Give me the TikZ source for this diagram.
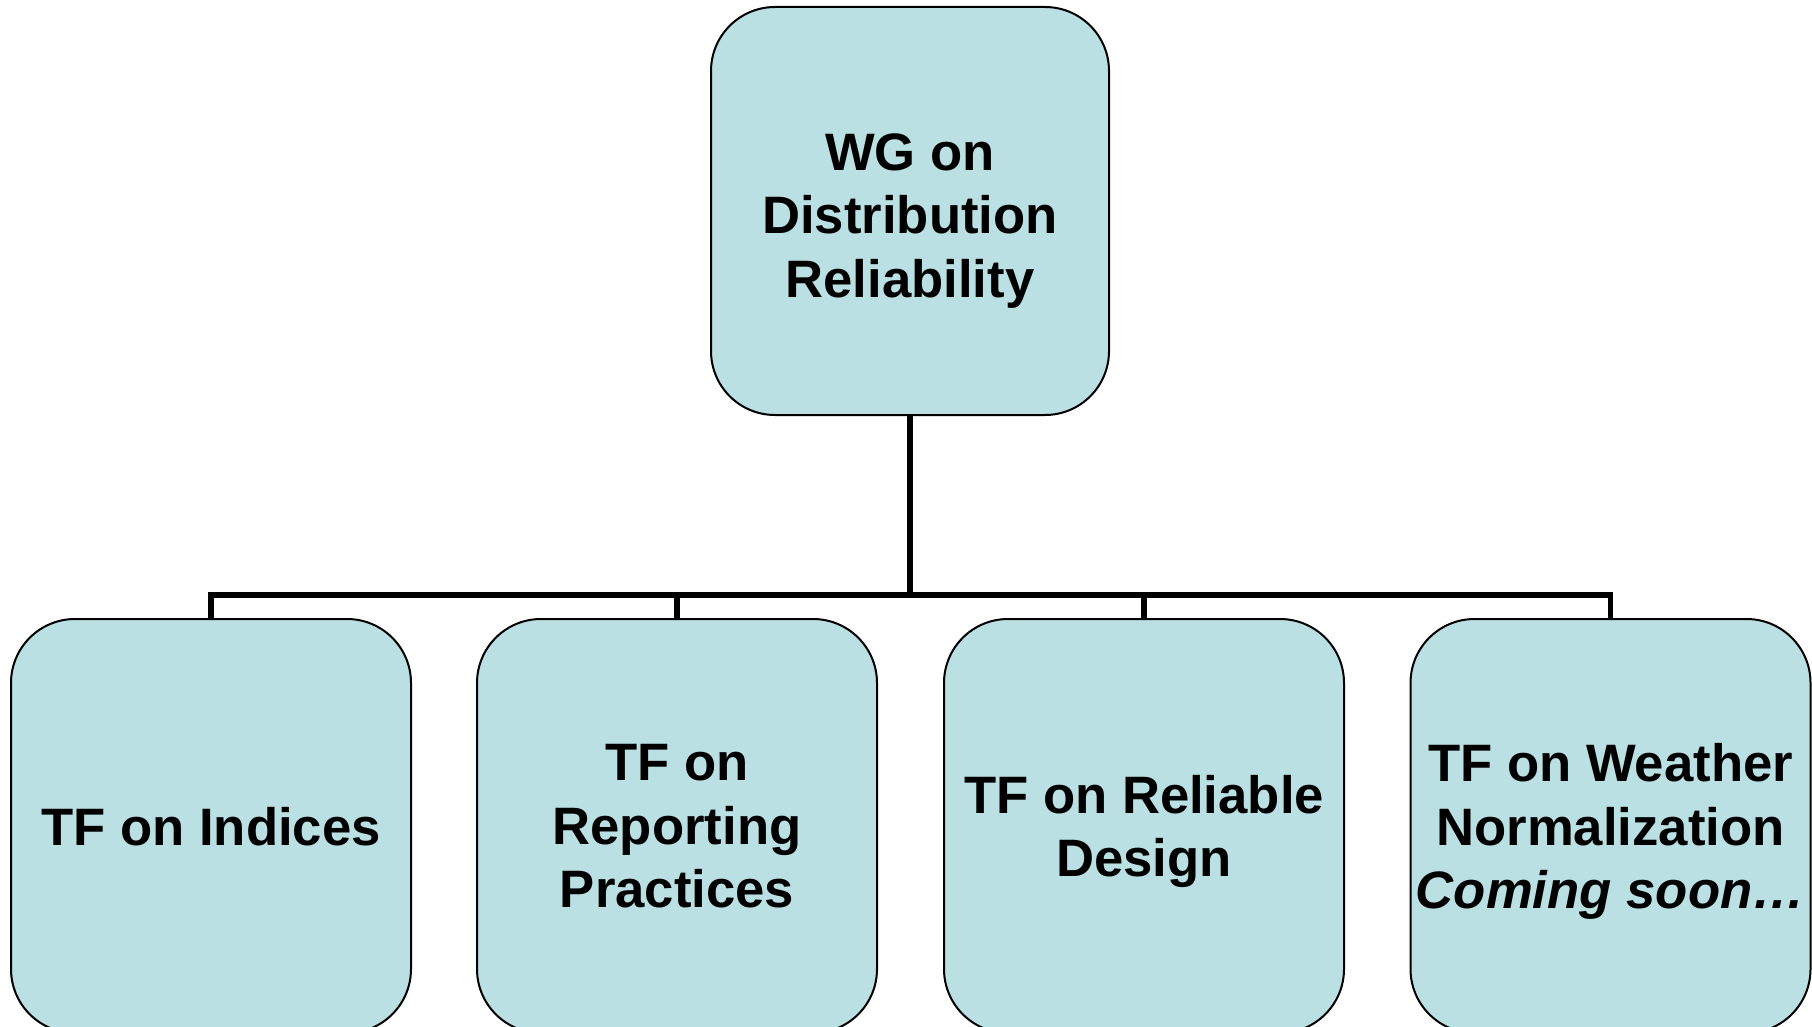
\documentclass[tikz,border=0pt]{standalone}
\usepackage{fontspec}
\setmainfont{Liberation Sans}
\usetikzlibrary{positioning}

\definecolor{boxfill}{RGB}{186,224,227}

\tikzset{every picture/.style={line width=0.75pt}}
\tikzset{
  orgbox/.style={draw=black, line width=1.5pt, fill=boxfill, rounded corners=48pt,
    minimum width=300pt, align=center, text depth=0pt,
    font=\fontsize{39.5pt}{47.6pt}\selectfont\bfseries},
  link/.style={draw=black, line width=4.2pt, line join=miter}
}

\begin{document}
\begin{tikzpicture}[x=0.75pt,y=0.75pt,yscale=-1,xscale=1]
\useasboundingbox (0,0) rectangle (1812,1027);

%Shape: Top box [id:wg]
\node [orgbox, minimum width=298.5pt, minimum height=306pt] (wg) at (910,211) {\rule{0pt}{34pt}WG on\\Distribution\\Reliability};

%Shape: Task force boxes
\node [orgbox, minimum height=310.5pt] (tfind) at (211,826) {TF on Indices};
\node [orgbox, minimum height=310.5pt] (tfrep) at (677,826) {TF on\\Reporting\\Practices};
\node [orgbox, minimum height=310.5pt] (tfdes) at (1144,826) {TF on Reliable\\Design};
\node [orgbox, minimum height=310.5pt] (tfwea) at (1610.5,826) {TF on Weather\\Normalization\\\itshape Coming soon\ldots};

%Straight Lines: bus
\coordinate (bus) at (910,595);
\foreach \tf in {tfind,tfrep,tfdes,tfwea}
  \draw [link] (wg.south) |- (bus) -| (\tf.north);

\end{tikzpicture}
\end{document}
